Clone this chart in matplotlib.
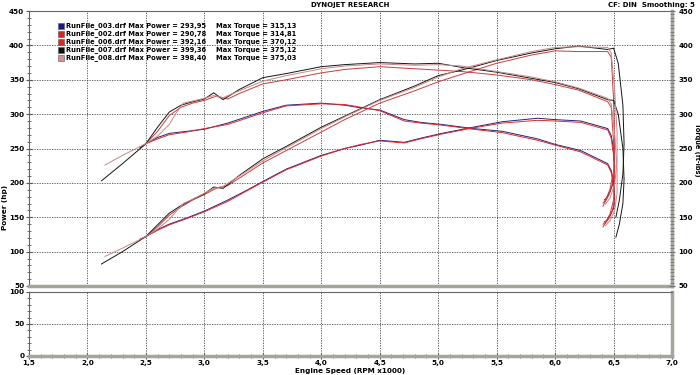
import matplotlib
matplotlib.use("Agg")
import matplotlib.pyplot as plt
from matplotlib.ticker import MultipleLocator, FuncFormatter
from matplotlib.patches import Rectangle

# Legend info
run_names = ["003", "002", "006", "007", "008"]
max_power = ["293,95", "290,78", "392,16", "399,36", "398,40"]
max_torque = ["315,13", "314,81", "370,12", "375,12", "375,03"]

# Run 003 (navy)
rpm_003 = [2.45, 2.5, 2.6, 2.7, 2.85, 3.0, 3.2, 3.36, 3.5, 3.7, 4.0, 4.2, 4.34, 4.5, 4.71, 4.85,
           5.03, 5.3, 5.55, 5.85, 6.0, 6.22, 6.45, 6.48, 6.50, 6.51, 6.50, 6.47, 6.44, 6.42]
torque_003 = [252, 257, 266, 272, 275, 278, 287, 296, 304, 313, 316, 313, 309, 306, 292, 288,
              285, 279, 275, 264, 256, 247, 228, 218, 200, 180, 163, 152, 145, 143]
power_003 = [118, 122, 132, 140, 149, 159, 175, 189, 202, 220, 240, 250, 255, 262, 259, 265,
             272, 281, 289, 294, 292, 290, 279, 269, 248, 223, 202, 187, 178, 175]

# Run 002 (red)
rpm_002 = [2.45, 2.5, 2.6, 2.7, 2.85, 3.0, 3.2, 3.36, 3.5, 3.7, 4.0, 4.2, 4.34, 4.5, 4.71, 4.85,
           5.03, 5.3, 5.55, 5.85, 6.0, 6.22, 6.45, 6.48, 6.50, 6.51, 6.49, 6.46, 6.42, 6.41]
torque_002 = [252, 257, 264, 270, 274, 279, 285, 294, 302, 312, 315, 314, 310, 305, 290, 287,
              284, 278, 273, 262, 255, 245, 226, 215, 195, 175, 160, 148, 139, 136]
power_002 = [118, 122, 131, 139, 148, 158, 173, 188, 201, 219, 239, 250, 256, 261, 258, 264,
             271, 280, 287, 291, 290, 288, 277, 265, 241, 217, 198, 182, 170, 166]

# Run 006 (red)
rpm_006 = [2.45, 2.5, 2.6, 2.7, 2.8, 2.9, 3.0, 3.1, 3.2, 3.3, 3.5, 3.7, 4.0, 4.2, 4.5, 4.8,
           5.0, 5.2, 5.5, 5.8, 6.0, 6.2, 6.45, 6.48, 6.50, 6.51, 6.50, 6.47, 6.43, 6.41]
torque_006 = [250, 257, 275, 298, 310, 316, 320, 326, 322, 330, 344, 350, 360, 365, 369, 366,
              364, 362, 357, 350, 343, 335, 318, 310, 260, 210, 175, 155, 142, 140]
power_006 = [117, 122, 136, 153, 165, 175, 183, 192, 196, 207, 229, 247, 274, 292, 316, 334,
             347, 358, 374, 386, 392, 391, 391, 383, 322, 260, 217, 191, 174, 171]

# Run 007 (black)
rpm_007 = [2.12, 2.3, 2.5, 2.6, 2.7, 2.8, 2.9, 3.0, 3.08, 3.16, 3.3, 3.5, 3.7, 4.0, 4.2, 4.5,
           4.8, 5.0, 5.2, 5.5, 5.8, 6.0, 6.2, 6.45, 6.50, 6.54, 6.58, 6.59, 6.58, 6.55, 6.52]
torque_007 = [203, 228, 257, 281, 303, 313, 318, 322, 331, 321, 336, 353, 359, 369, 372, 375,
              373, 374, 368, 361, 352, 346, 337, 321, 320, 300, 250, 205, 170, 140, 121]
power_007 = [82, 100, 122, 139, 156, 167, 176, 184, 194, 192, 211, 235, 253, 281, 297, 321,
             341, 356, 364, 378, 389, 395, 399, 394, 396, 374, 313, 257, 213, 175, 150]

# Run 008 (rose)
rpm_008 = [2.15, 2.3, 2.5, 2.6, 2.7, 2.76, 2.82, 2.9, 3.0, 3.08, 3.16, 3.3, 3.5, 3.7, 4.0, 4.2,
           4.5, 4.8, 5.0, 5.2, 5.5, 5.8, 6.0, 6.2, 6.45, 6.48, 6.51, 6.53, 6.53, 6.51, 6.47, 6.43]
torque_008 = [226, 240, 257, 268, 285, 302, 316, 319, 323, 327, 324, 334, 348, 356, 366, 370,
              373, 371, 372, 370, 362, 354, 347, 338, 323, 315, 270, 220, 185, 160, 145, 138]
power_008 = [93, 105, 122, 133, 147, 159, 170, 176, 185, 192, 195, 210, 232, 251, 279, 296,
             320, 339, 354, 366, 379, 391, 397, 398, 397, 389, 334, 274, 230, 198, 178, 169]

runs = [
    (rpm_003, power_003, torque_003, "#22227a"),
    (rpm_002, power_002, torque_002, "#e0282a"),
    (rpm_006, power_006, torque_006, "#cf3a3a"),
    (rpm_007, power_007, torque_007, "#151515"),
    (rpm_008, power_008, torque_008, "#c48888"),
]
legend_colors = ["#1a1a80", "#e02020", "#d82828", "#101010", "#d89090"]

W, H = 700, 375
fig = plt.figure(figsize=(7, 3.75), dpi=100)
fig.patch.set_facecolor("white")

ax = fig.add_axes([29 / W, 1 - 286 / H, 643 / W, 275 / H])
axb = fig.add_axes([29 / W, 1 - 356 / H, 643 / W, 64 / H])
ax2 = ax.twinx()

for rpm, pw, tq, col in runs:
    ax.plot(rpm, pw, color=col, lw=0.7)
    ax.plot(rpm, tq, color=col, lw=0.7)

comma = FuncFormatter(lambda v, p: f"{v:.1f}".replace(".", ","))
grid_kw = dict(color="#444444", lw=0.6, ls=(0, (1.5, 1.5)))
TICK_FS = 5.2

for a in (ax, axb):
    a.set_xlim(1.5, 7.0)
    a.xaxis.set_major_locator(MultipleLocator(0.5))
    a.grid(True, **grid_kw)
    for s in ("top", "left"):
        a.spines[s].set_color("#666666")
        a.spines[s].set_linewidth(0.8)
    for s in ("bottom", "right"):
        a.spines[s].set_color("#a5a59c")
        a.spines[s].set_linewidth(2.5)
    a.tick_params(axis="y", which="both", direction="inout", colors="#555555",
                  labelcolor="black", labelsize=TICK_FS, pad=1)
    a.tick_params(axis="y", which="major", length=5, width=0.8)
    a.tick_params(axis="y", which="minor", length=3, width=0.6)

ax.set_ylim(50, 450)
ax.yaxis.set_major_locator(MultipleLocator(50))
ax.yaxis.set_minor_locator(MultipleLocator(10))
ax.tick_params(axis="x", length=0, labelbottom=False)
for lab in ax.get_yticklabels():
    lab.set_fontweight("bold")

ax2.set_ylim(50, 450)
ax2.yaxis.set_major_locator(MultipleLocator(50))
ax2.yaxis.set_minor_locator(MultipleLocator(5))
ax2.tick_params(axis="y", which="both", direction="inout", colors="#777777",
                labelcolor="black", labelsize=5, pad=2.5)
ax2.tick_params(axis="y", which="major", length=4)
ax2.tick_params(axis="y", which="minor", length=2.5)
for s in ax2.spines.values():
    s.set_visible(False)
for lab in ax2.get_yticklabels():
    lab.set_fontweight("bold")

axb.set_ylim(0, 100)
axb.yaxis.set_major_locator(MultipleLocator(50))
axb.yaxis.set_minor_locator(MultipleLocator(10))
axb.xaxis.set_minor_locator(MultipleLocator(0.1))
axb.xaxis.set_major_formatter(comma)
axb.tick_params(axis="x", which="both", direction="inout", colors="#555555",
                labelcolor="black", labelsize=TICK_FS, pad=0.5)
axb.tick_params(axis="x", which="major", length=5)
axb.tick_params(axis="x", which="minor", length=3)
for lab in axb.get_xticklabels() + axb.get_yticklabels():
    lab.set_fontweight("bold")

# titles and axis labels
fig.text(350 / W, 1 - 5 / H, "DYNOJET RESEARCH", ha="center", va="center",
         fontsize=5, fontweight="bold")
fig.text(695 / W, 1 - 5 / H, "CF: DIN  Smoothing: 5", ha="right", va="center",
         fontsize=5, fontweight="bold")
fig.text(5 / W, 1 - 207 / H, "Power (hp)", rotation=90, ha="center", va="center",
         fontsize=5.2, fontweight="bold")
fig.text(697 / W, 1 - 150 / H, "Torque (ft-lbs)", rotation=-90, ha="center", va="center",
         fontsize=4.8, fontweight="bold")
fig.text(350 / W, 1 - 370.5 / H, "Engine Speed (RPM x1000)", ha="center", va="center",
         fontsize=5.2, fontweight="bold")

# legend block
for i, name in enumerate(run_names):
    y = 26 + i * 8
    fig.patches.append(Rectangle((58 / W, 1 - (y + 3) / H), 6 / W, 6 / H,
                                 transform=fig.transFigure, facecolor=legend_colors[i],
                                 edgecolor="#555555", lw=0.4))
    fig.text(66 / W, 1 - y / H, f"RunFile_{name}.drf Max Power = {max_power[i]}",
             ha="left", va="center", fontsize=4.9, fontweight="bold")
    fig.text(216 / W, 1 - y / H, f"Max Torque = {max_torque[i]}",
             ha="left", va="center", fontsize=4.9, fontweight="bold")

fig.savefig("out.png", dpi=100)
